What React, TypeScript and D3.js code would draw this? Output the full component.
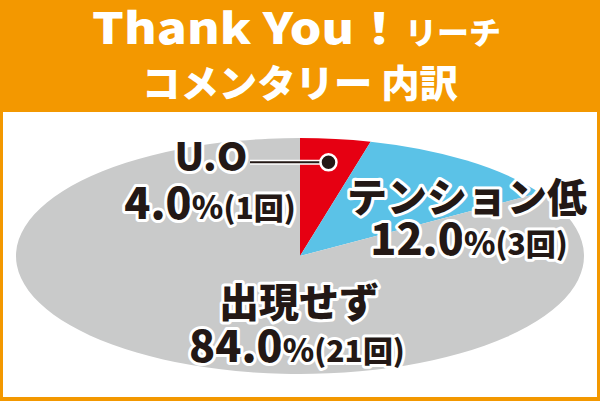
import * as d3 from "d3";
import React from 'react'

// chart data
const categories = ["U.O", "テンション低", "出現せず"]
const counts = [1, 3, 21]
const sliceColors = ["#E60012", "#5BC2E7", "#C9CACA"]
const titleLine1 = "Thank You！"
const titleSub = "リーチ"
const titleLine2 = "コメンタリー 内訳"

const W = 600
const H = 401
const FONT = "'Noto Sans CJK JP', 'Noto Sans', sans-serif"

// label anchors (name line / value line)
const labelLayout = [
  { x: 211, y1: 171, x2: 210, y2: 219 },
  { x: 467, y1: 212, x2: 469, y2: 255 },
  { x: 299, y1: 317, x2: 297, y2: 362 },
]

const outline = {
  stroke: "#fff",
  strokeWidth: 6,
  strokeLinejoin: "round" as const,
  paintOrder: "stroke",
}

const App: React.FC = () => {
  const cx = 300, cy = 256, rx = 284, ry = 118
  const total = d3.sum(counts)
  const pie = d3.pie<number>().sort(null)
  const arcs = pie(counts)
  const arc = d3.arc<d3.PieArcDatum<number>>().innerRadius(0).outerRadius(rx)
  const dotArc = d3.arc<d3.PieArcDatum<number>>().innerRadius(rx * 0.8).outerRadius(rx * 0.8)
  const pct = (v: number) => (v / total * 100).toFixed(1)

  const dot = dotArc.centroid(arcs[0])
  const dotX = cx + dot[0]
  const dotY = cy + dot[1] * ry / rx

  return (
    <svg width={W} height={H} style={{ position: "absolute", left: 0, top: 0 }} fontFamily={FONT}>
      <rect width={W} height={H} fill="#F39800" />
      <rect x={3} y={112} width={594} height={285} fill="#fff" />

      <g fill="#fff" fontWeight={900}>
        <text x={92} y={44} fontSize={43} textLength={312} lengthAdjust="spacingAndGlyphs">{titleLine1}</text>
        <text x={405} y={44} fontSize={31} textLength={96} lengthAdjust="spacingAndGlyphs">{titleSub}</text>
        <text x={142} y={97} fontSize={38} textLength={316} lengthAdjust="spacingAndGlyphs">{titleLine2}</text>
      </g>

      <g transform={`translate(${cx},${cy}) scale(1,${ry / rx})`}>
        {arcs.map((a, i) => <path key={i} d={arc(a) || ""} fill={sliceColors[i]} />)}
      </g>

      <line x1={250} y1={dotY} x2={dotX} y2={dotY} stroke="#fff" strokeWidth={5} />
      <line x1={250} y1={dotY} x2={dotX} y2={dotY} stroke="#231815" strokeWidth={2} />
      <circle cx={dotX} cy={dotY} r={8} fill="#231815" stroke="#fff" strokeWidth={2.5} />

      {categories.map((c, i) => {
        const l = labelLayout[i]
        return (
          <g key={c} fill="#231815" fontWeight={900} style={outline}>
            <text x={l.x} y={l.y1} textAnchor="middle" fontSize={i === 0 ? 39 : 40}>{c}</text>
            <text x={l.x2} y={l.y2} textAnchor="middle">
              <tspan fontSize={43}>{pct(counts[i])}</tspan>
              <tspan fontSize={32}>%</tspan>
              <tspan fontSize={30}>({counts[i]}回)</tspan>
            </text>
          </g>
        )
      })}
    </svg>
  )
}

export default App
